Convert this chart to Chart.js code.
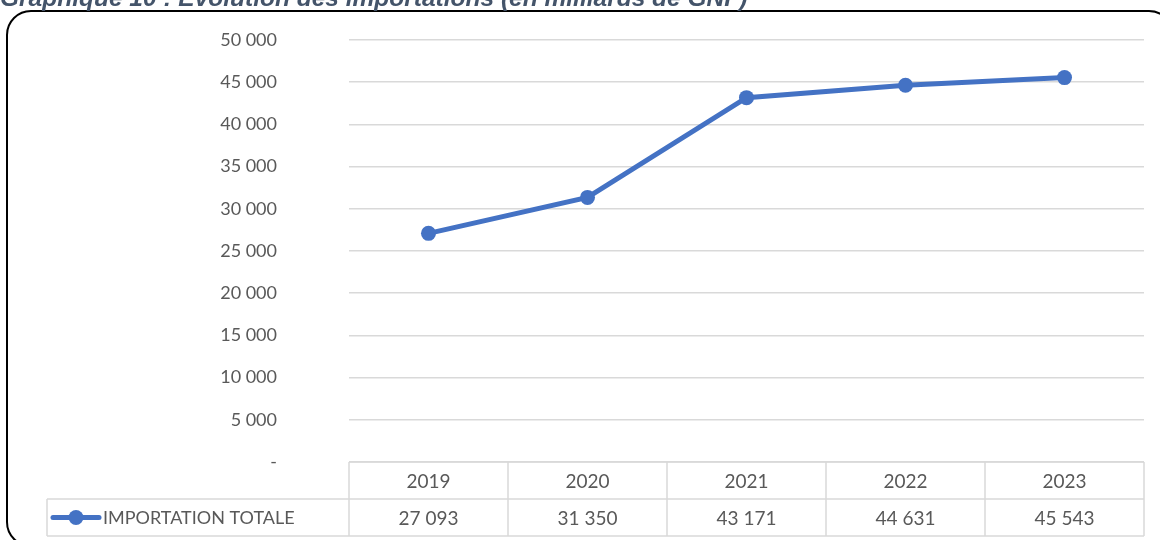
<!DOCTYPE html>
<html lang="fr">
<head>
<meta charset="UTF-8">
<title>Evolution des importations</title>
<script src="https://cdn.jsdelivr.net/npm/chart.js"></script>
<style>
  html, body { margin: 0; padding: 0; background: #fff; }
  .wrap { width: 1160px; height: 540px; position: relative; }
</style>
</head>
<body>
<div class="wrap">
  <canvas id="graph"></canvas>
</div>

<script>
// donnees du graphique
var annees = ['2019', '2020', '2021', '2022', '2023'];
var importTotale = [27093, 31350, 43171, 44631, 45543];
var serieNom = 'IMPORTATION TOTALE';
var titre = 'Graphique 10 : Evolution des importations (en milliards de GNF)';

var bleu = '#4472C4';
var gris = '#595959';
var grille = '#D9D9D9';
var police = 'Lato';

function fmt(n) {
  return String(n).replace(/\B(?=(\d{3})+(?!\d))/g, ' ');
}

// cadre arrondi, titre et tableau de donnees sous le graphique
var tableau = {
  id: 'tableau',
  afterDraw: function (chart) {
    var ctx = chart.ctx;
    var x = chart.scales.x;
    var area = chart.chartArea;
    var haut = area.bottom;
    var h = 37;

    ctx.save();

    // lignes du tableau
    ctx.strokeStyle = grille;
    ctx.lineWidth = 1.5;
    var pas = x.getPixelForValue(1) - x.getPixelForValue(0);
    var bords = [];
    for (var i = 0; i < annees.length; i++) {
      bords.push(x.getPixelForValue(i) - pas / 2);
    }
    bords.push(area.right);
    ctx.beginPath();
    ctx.moveTo(area.left, haut); ctx.lineTo(area.right, haut);
    ctx.moveTo(47, haut + h); ctx.lineTo(area.right, haut + h);
    ctx.moveTo(47, haut + 2 * h); ctx.lineTo(area.right, haut + 2 * h);
    ctx.moveTo(47, haut + h); ctx.lineTo(47, haut + 2 * h);
    for (var j = 0; j < bords.length; j++) {
      ctx.moveTo(bords[j], haut); ctx.lineTo(bords[j], haut + 2 * h);
    }
    ctx.stroke();

    // textes
    ctx.fillStyle = gris;
    ctx.font = '19px ' + police;
    ctx.textAlign = 'center';
    ctx.textBaseline = 'middle';
    for (var k = 0; k < annees.length; k++) {
      var cx = x.getPixelForValue(k);
      ctx.fillText(annees[k], cx, haut + h / 2 + 1);
      ctx.fillText(fmt(importTotale[k]), cx, haut + h * 1.5 + 1);
    }

    // legende
    var ly = haut + h * 1.5;
    ctx.strokeStyle = bleu;
    ctx.lineWidth = 5;
    ctx.lineCap = 'round';
    ctx.beginPath();
    ctx.moveTo(53, ly); ctx.lineTo(99, ly);
    ctx.stroke();
    ctx.fillStyle = bleu;
    ctx.beginPath();
    ctx.arc(76, ly, 7.5, 0, Math.PI * 2);
    ctx.fill();
    ctx.fillStyle = gris;
    ctx.font = '18px ' + police;
    ctx.textAlign = 'left';
    ctx.fillText(serieNom, 103, ly + 1);

    // cadre
    ctx.strokeStyle = '#000';
    ctx.lineWidth = 2;
    ctx.beginPath();
    ctx.roundRect(7, 11, 1166, 535, 24);
    ctx.stroke();

    // titre (coupe en haut)
    ctx.fillStyle = '#44546A';
    ctx.font = 'italic bold 24.5px "Liberation Sans"';
    ctx.textAlign = 'left';
    ctx.textBaseline = 'alphabetic';
    ctx.fillText(titre, 0, 6);

    ctx.restore();
  }
};

var ctx = document.getElementById('graph').getContext('2d');
var monGraphique = new Chart(ctx, {
  type: 'line',
  data: {
    labels: annees,
    datasets: [{
      label: serieNom,
      data: importTotale,
      borderColor: bleu,
      backgroundColor: bleu,
      borderWidth: 5,
      pointRadius: 7.5,
      pointHoverRadius: 7.5,
      pointBackgroundColor: bleu,
      pointBorderWidth: 0,
      tension: 0
    }]
  },
  options: {
    responsive: true,
    maintainAspectRatio: false,
    animation: false,
    layout: { padding: { top: 40, right: 16, bottom: 78, left: 0 } },
    plugins: {
      legend: { display: false },
      title: { display: false },
      tooltip: { enabled: false }
    },
    scales: {
      x: {
        display: false,
        offset: true
      },
      y: {
        min: 0,
        max: 50000,
        afterFit: function (scale) { scale.width = 349; },
        border: { display: false },
        grid: { color: grille, lineWidth: 1.5, drawTicks: true, tickLength: 72, tickColor: 'transparent' },
        ticks: {
          stepSize: 5000,
          padding: 0,
          color: gris,
          font: { family: police, size: 18 },
          callback: function (v) { return v === 0 ? '-' : fmt(v); }
        }
      }
    }
  },
  plugins: [tableau]
});
</script>
</body>
</html>
